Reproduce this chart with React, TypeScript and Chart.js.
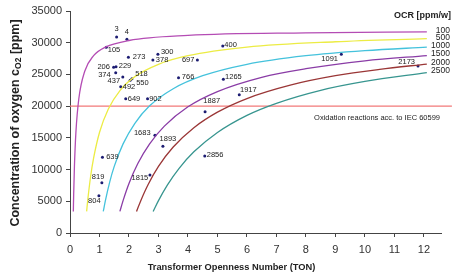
import React, { useEffect, useRef } from "react";
import { Chart, registerables } from "chart.js";

Chart.register(...registerables);

// ---- Data ----
const ocrLabels = ["100", "500", "1000", "1500", "2000", "2500"];
const ocrColors = ["#b44cb4", "#ecec44", "#44c2dc", "#8a3ca6", "#9a3636", "#37958f"];

const curve100X = [0.113, 0.125, 0.15, 0.2, 0.3, 0.5, 0.8, 1.2, 2, 4, 8, 12.1];
const curve100Y = [3400, 6200, 10500, 15850, 21200, 25500, 27950, 29300, 30350, 31150, 31550, 31700];
const curve500X = [0.564, 0.6, 0.7, 0.8, 1.0, 1.3, 1.7, 2.2, 3, 4, 6, 9, 12.1];
const curve500Y = [3400, 5100, 8950, 11800, 15850, 19550, 22500, 24650, 26600, 27950, 29300, 30150, 30630];
const curve1000X = [1.128, 1.2, 1.35, 1.5, 1.8, 2.2, 2.7, 3.5, 4.5, 6, 8, 10, 12.1];
const curve1000Y = [3400, 5100, 8100, 10500, 14050, 17300, 20050, 22750, 24800, 26600, 27950, 28750, 29300];
const curve1500X = [1.692, 1.8, 2.0, 2.3, 2.7, 3.2, 4, 5, 6.5, 8, 10, 12.1];
const curve1500Y = [3400, 5100, 7800, 10950, 14050, 16850, 19900, 22300, 24550, 25900, 27150, 27970];
const curve2000X = [2.256, 2.4, 2.65, 3, 3.5, 4.2, 5, 6, 7.5, 9, 10.5, 12.1];
const curve2000Y = [3400, 5100, 7650, 10500, 13550, 16600, 19050, 21200, 23350, 24800, 25800, 26640];
const curve2500X = [2.82, 3.0, 3.3, 3.7, 4.2, 5, 6, 7, 8.5, 10, 12.1];
const curve2500Y = [3400, 5100, 7550, 10200, 12800, 15850, 18550, 20450, 22500, 23900, 25300];

const curvesX = [curve100X, curve500X, curve1000X, curve1500X, curve2000X, curve2500X];
const curvesY = [curve100Y, curve500Y, curve1000Y, curve1500Y, curve2000Y, curve2500Y];

const pointLabels = ["3", "4", "105", "273", "300", "378", "697", "206", "229", "374", "437", "518", "550", "492", "766", "649", "902", "400", "1265", "1917", "1887", "1683", "1893", "639", "819", "804", "1815", "2856", "1091", "2173"];
const pointTON = [1.58, 1.93, 1.23, 1.98, 2.98, 2.81, 4.32, 1.48, 1.56, 1.55, 1.79, 2.10, 2.04, 1.72, 3.68, 1.89, 2.63, 5.18, 5.20, 5.74, 4.58, 2.88, 3.15, 1.10, 1.08, 0.98, 2.71, 4.57, 9.20, 11.80];
const pointO2 = [30900, 30540, 29280, 27700, 28170, 27280, 27280, 26120, 26220, 25280, 24600, 24330, 24070, 23070, 24490, 21180, 21180, 29480, 24230, 21800, 19120, 15400, 13670, 11930, 7930, 5880, 9140, 12140, 28170, 26330];

// label placement (style, not data): [dx, dy, align]
const labelPlacement: [number, number, CanvasTextAlign][] = [
  [0, -8, "center"], [0, -7.5, "center"], [1.5, 2.4, "left"], [4.4, -0.3, "left"], [3, -2.7, "left"],
  [3, 0.3, "left"], [-3, 0, "right"], [-3.7, -0.6, "right"], [2.7, -0.7, "left"], [-5, 2, "right"],
  [-2.7, 4, "right"], [3.3, -4.7, "left"], [6, 3, "left"], [2, 0.6, "left"], [3.3, -0.4, "left"],
  [2, 0.3, "left"], [1.6, 0, "left"], [1.6, -1.3, "left"], [1.7, -2.3, "left"], [0.7, -4.4, "left"],
  [-1.7, -10.7, "left"], [-4.3, -2, "right"], [-3.3, -7, "left"], [3.7, 0, "left"], [-10, -5.4, "left"],
  [1.7, 5.6, "right"], [-1.7, 3.3, "right"], [2, -0.7, "left"], [-3.3, 4.7, "right"], [-3, -4, "right"],
];

const thresholdValue = 20000;
const thresholdX = [0, 12.95];
const thresholdText = "Oxidation reactions acc. to IEC 60599";

const xTickValues = [0, 1, 2, 3, 4, 5, 6, 7, 8, 9, 10, 11, 12];
const xMax = 12.58;
const yMax = 35000;
const yStep = 5000;

const FONT = '"Liberation Sans", Arial, sans-serif';

const annotPlugin = {
  id: "annot",
  afterDatasetsDraw(chart: any) {
    const { ctx, scales } = chart;
    const x = scales.x;
    const y = scales.y;
    ctx.save();
    // point labels
    ctx.font = `7.5px ${FONT}`;
    ctx.fillStyle = "#1a1a1a";
    ctx.textBaseline = "middle";
    pointLabels.forEach((lab, i) => {
      const px = x.getPixelForValue(pointTON[i]);
      const py = y.getPixelForValue(pointO2[i]);
      const [dx, dy, al] = labelPlacement[i];
      ctx.textAlign = al;
      ctx.fillText(lab, px + dx, py + dy);
    });
    // threshold text
    ctx.font = `7.5px ${FONT}`;
    ctx.textAlign = "right";
    ctx.fillStyle = "#222";
    ctx.fillText(thresholdText, chart.chartArea.right - 1, y.getPixelForValue(thresholdValue) + 11.6);
    // legend
    ctx.font = `bold 9px ${FONT}`;
    ctx.fillStyle = "#222";
    ctx.textAlign = "right";
    ctx.fillText("OCR [ppm/w]", 451, 16);
    ctx.font = `8.5px ${FONT}`;
    ocrLabels.forEach((lab, i) => {
      const ys = curvesY[i];
      ctx.fillText(lab, 450, y.getPixelForValue(ys[ys.length - 1]) - 1.5);
    });
    // x title
    ctx.font = `bold 9.3px ${FONT}`;
    ctx.textAlign = "center";
    ctx.fillText("Transformer Openness Number (TON)", 231.5, 267.7);
    // y title with subscript
    const mainFont = `bold 12.5px ${FONT}`;
    const subFont = `bold 8.5px ${FONT}`;
    const t1 = "Concentration of oxygen c";
    const t2 = "O2";
    const t3 = " [ppm]";
    ctx.font = mainFont;
    const w1 = ctx.measureText(t1).width;
    const w3 = ctx.measureText(t3).width;
    ctx.font = subFont;
    const w2 = ctx.measureText(t2).width;
    const total = w1 + w2 + w3;
    ctx.translate(16, 123);
    ctx.rotate(-Math.PI / 2);
    ctx.textAlign = "left";
    let sx = -total / 2;
    ctx.font = mainFont;
    ctx.fillText(t1, sx, 0);
    sx += w1;
    ctx.font = subFont;
    ctx.fillText(t2, sx, 3);
    sx += w2;
    ctx.font = mainFont;
    ctx.fillText(t3, sx, 0);
    ctx.restore();
  },
};

export default function App() {
  const ref = useRef<HTMLCanvasElement>(null);
  useEffect(() => {
    if (!ref.current) return;
    const datasets: any[] = [];
    curvesX.forEach((xs, i) => {
      datasets.push({
        type: "line",
        data: xs.map((v, j) => ({ x: v, y: curvesY[i][j] })),
        borderColor: ocrColors[i],
        borderWidth: 1.3,
        pointRadius: 0,
        fill: false,
        cubicInterpolationMode: "monotone",
      });
    });
    datasets.push({
      type: "line",
      data: thresholdX.map((v) => ({ x: v, y: thresholdValue })),
      borderColor: "#f27878",
      borderWidth: 1.4,
      pointRadius: 0,
      clip: false,
    });
    datasets.push({
      type: "scatter",
      data: pointTON.map((v, i) => ({ x: v, y: pointO2[i] })),
      backgroundColor: "#1c1c72",
      borderWidth: 0,
      pointRadius: 1.5,
    });
    const chart = new Chart(ref.current, {
      type: "scatter",
      data: { datasets },
      options: {
        animation: false,
        responsive: false,
        devicePixelRatio: 1,
        layout: { padding: { top: 11, right: 11, left: 0, bottom: 0 } },
        plugins: { legend: { display: false }, tooltip: { enabled: false } },
        scales: {
          x: {
            type: "linear",
            min: 0,
            max: xMax,
            afterBuildTicks: (s: any) => {
              s.ticks = xTickValues.map((v) => ({ value: v }));
            },
            afterFit: (s: any) => {
              s.height = 42;
            },
            grid: { drawOnChartArea: false, drawTicks: true, tickLength: 4, color: "#444" },
            border: { display: true, color: "#444", width: 1 },
            ticks: { color: "#333", font: { family: FONT, size: 11 }, padding: 6, maxRotation: 0, callback: (v: any) => String(v) },
          },
          y: {
            type: "linear",
            min: 0,
            max: yMax,
            afterFit: (s: any) => {
              s.width = 70;
            },
            grid: { drawOnChartArea: false, drawTicks: true, tickLength: 4, color: "#444" },
            border: { display: true, color: "#444", width: 1 },
            ticks: { stepSize: yStep, color: "#333", font: { family: FONT, size: 11 }, padding: 4, callback: (v: any) => String(v) },
          },
        },
      },
      plugins: [annotPlugin],
    });
    return () => chart.destroy();
  }, []);
  return (
    <div style={{ position: "absolute", left: 0, top: 0, width: 452, height: 275, background: "#fff" }}>
      <canvas ref={ref} width={452} height={275} style={{ display: "block" }} />
    </div>
  );
}
